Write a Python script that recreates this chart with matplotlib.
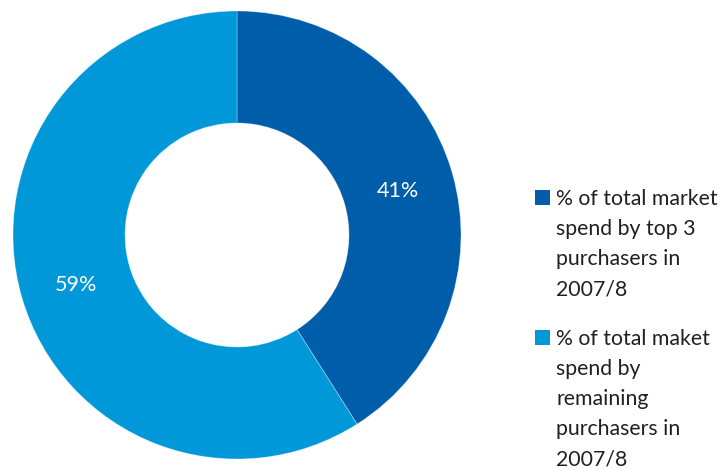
import matplotlib
matplotlib.use("Agg")
import matplotlib.pyplot as plt
from matplotlib.patches import Rectangle

# Market spend share, 2007/8
shares = [41, 59]
labels = [
    "% of total market\nspend by top 3\npurchasers in\n2007/8",
    "% of total maket\nspend by\nremaining\npurchasers in\n2007/8",
]
colors = ["#005DAA", "#0098D9"]

W, H = 728, 470
fig = plt.figure(figsize=(W / 100, H / 100), dpi=100)

# Donut axes: outer radius ~224 px, centred at (237, 235)
cx, cy, R = 237, 235, 224
ax = fig.add_axes([(cx - R) / W, (H - cy - R) / H, 2 * R / W, 2 * R / H])

font = dict(family=["Lato", "DejaVu Sans"], weight="normal")

wedges, texts, autotexts = ax.pie(
    shares,
    colors=colors,
    startangle=90,
    counterclock=False,
    radius=1.0,
    autopct=lambda p: f"{p:.0f}%",
    pctdistance=0.75,
    wedgeprops=dict(width=0.5, edgecolor=(1, 1, 1, 0.35), linewidth=0.6),
    textprops=dict(fontsize=15.5, **font),
)
for t in autotexts:
    t.set_color("white")
    x, y = t.get_position()
    t.set_position((x, y - 0.015))
ax.set_xlim(-1, 1)
ax.set_ylim(-1, 1)
ax.set_aspect("equal")
ax.axis("off")

# Legend drawn as coloured squares with wrapped captions
legend_top = [190, 330]
line_h = 30.0
for top, lab, col in zip(legend_top, labels, colors):
    fig.patches.append(
        Rectangle((535 / W, (H - top - 15) / H), 15 / W, 15 / H,
                  transform=fig.transFigure, facecolor=col, edgecolor="none")
    )
    for i, line in enumerate(lab.split("\n")):
        fig.text(556 / W, (H - top - 15 - i * line_h) / H, line,
                 fontsize=15.3, color="#231F20", va="baseline", ha="left", **font)

fig.savefig("out.png", dpi=100)
